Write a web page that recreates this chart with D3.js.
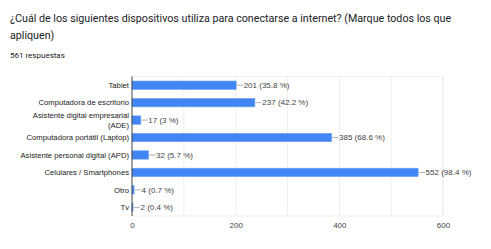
<!DOCTYPE html>
<html><head><meta charset="utf-8">
<script src="https://cdn.jsdelivr.net/npm/d3@7"></script>
<style>body{margin:0;background:#fff;}svg{display:block;}</style>
</head><body>
<script>
const titleLines = ["¿Cuál de los siguientes dispositivos utiliza para conectarse a internet? (Marque todos los que", "apliquen)"];
const subtitle = "561 respuestas";
const categories = [["Tablet"], ["Computadora de escritorio"], ["Asistente digital empresarial", "(ADE)"], ["Computadora portátil (Laptop)"], ["Asistente personal digital (APD)"], ["Celulares / Smartphones"], ["Otro"], ["Tv"]];
const counts = [201, 237, 17, 385, 32, 552, 4, 2];
const percents = ["35.8", "42.2", "3", "68.6", "5.7", "98.4", "0.7", "0.4"];
const tickValues = [0, 200, 400, 600];
const gridValues = [100, 200, 300, 400, 500, 600];

const W = 491, H = 249;
const svg = d3.select("body").append("svg").attr("width", W).attr("height", H);
const font = "Roboto, 'Liberation Sans', Arial, sans-serif";
const afont = "'Liberation Sans', Arial, sans-serif";

svg.selectAll("text.title").data(titleLines).join("text")
  .attr("x", 10).attr("y", (d, i) => 21.5 + i * 17)
  .attr("font-family", font).attr("font-size", 10.7).attr("fill", "#202124").text(d => d);
svg.append("text").attr("x", 10).attr("y", 57.5).attr("font-family", font)
  .attr("font-size", 8).attr("fill", "#202124").text(subtitle);

const x = d3.scaleLinear().domain([0, 600]).range([132, 443]);
const y = d3.scaleBand().domain(d3.range(categories.length)).range([76.5, 216]).paddingInner(0.52).paddingOuter(0.26);

const g = svg.append("g");
// grid
g.selectAll("line.grid").data(gridValues).join("line")
  .attr("x1", d => x(d)).attr("x2", d => x(d)).attr("y1", 76.5).attr("y2", 216)
  .attr("stroke", d => d === 600 ? "#e4e4e4" : "#efefef").attr("stroke-width", 1);
g.append("line").attr("x1", 132).attr("x2", 443).attr("y1", 76.5).attr("y2", 76.5).attr("stroke", "#efefef");
g.append("line").attr("x1", 132).attr("x2", 443).attr("y1", 216).attr("y2", 216).attr("stroke", "#efefef");

// bars
g.selectAll("rect.bar").data(counts).join("rect")
  .attr("x", x(0)).attr("y", (d, i) => y(i)).attr("width", d => x(d) - x(0)).attr("height", y.bandwidth())
  .attr("fill", "#4285f4").attr("stroke", "#6aa0f7").attr("stroke-width", 0.6);

// connector lines + labels
g.selectAll("line.conn").data(counts).join("line")
  .attr("x1", d => x(d) + 0.5).attr("x2", d => x(d) + 7)
  .attr("y1", (d, i) => y(i) + y.bandwidth() / 2).attr("y2", (d, i) => y(i) + y.bandwidth() / 2)
  .attr("stroke", "#b0b0b0").attr("stroke-width", 1);
g.selectAll("text.val").data(counts).join("text")
  .attr("x", d => x(d) + 7.5).attr("y", (d, i) => y(i) + y.bandwidth() / 2).attr("dy", "0.35em")
  .attr("font-family", afont).attr("font-size", 8).attr("fill", "#444")
  .text((d, i) => `${d} (${percents[i]} %)`);

// axis line
g.append("line").attr("x1", 132).attr("x2", 132).attr("y1", 76.5).attr("y2", 216).attr("stroke", "#444").attr("stroke-width", 1);

// category labels
categories.forEach((lines, i) => {
  const cy = y(i) + y.bandwidth() / 2;
  const t = g.append("text").attr("text-anchor", "end").attr("font-family", afont)
    .attr("font-size", 7.7).attr("fill", "#222");
  lines.forEach((ln, j) => {
    t.append("tspan").attr("x", 129).attr("y", cy + (j - (lines.length - 1) / 2) * 9.5).attr("dy", "0.35em").text(ln);
  });
});

// x tick labels
const xAxis = d3.axisBottom(x).tickValues(tickValues).tickSize(0).tickPadding(0).tickFormat(d3.format("d"));
const ax = svg.append("g").attr("transform", "translate(0,222)").call(xAxis);
ax.select(".domain").remove();
ax.selectAll("text").attr("font-family", afont).attr("font-size", 8).attr("fill", "#444").attr("dy", "0.71em");
</script>
</body></html>
